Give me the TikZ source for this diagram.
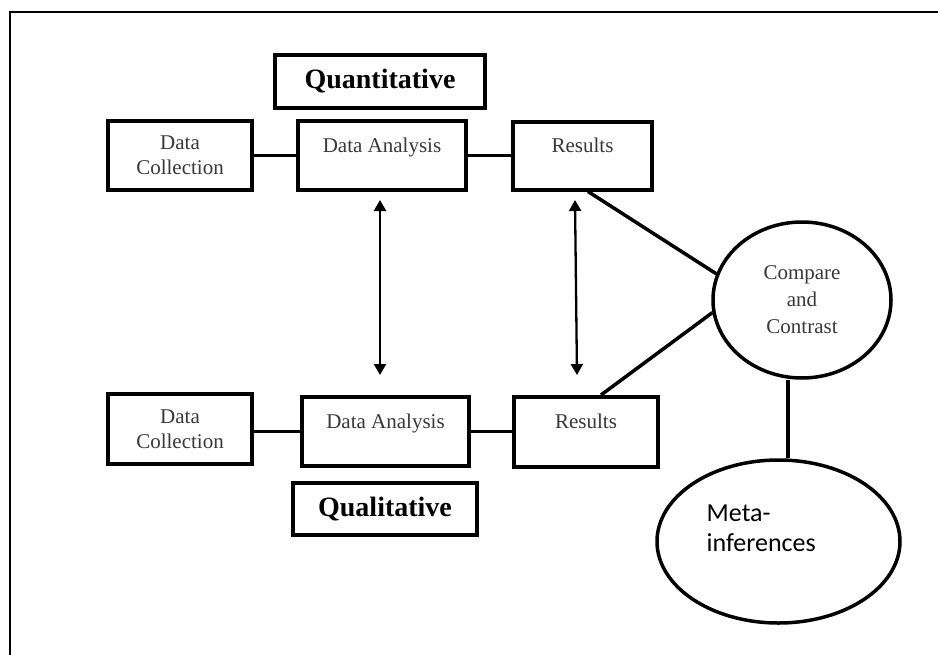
\documentclass[tikz,border=0pt]{standalone}
\usepackage{fontspec}
\setmainfont{Liberation Serif}
\newfontfamily\calibrilike{Carlito}
\usetikzlibrary{arrows.meta,shapes.geometric}

\begin{document}
\begin{tikzpicture}[x=1pt,y=-1pt,
  box/.style={draw, line width=4pt, line join=miter, inner sep=0pt, align=center,
              text=black!78, font=\fontsize{21}{25}\selectfont},
  headbox/.style={box, line width=4.5pt, text=black, font=\bfseries\fontsize{28}{32}\selectfont},
  toptext/.style={text height=15pt, text depth=22pt},
  link/.style={line width=3.5pt},
  dblarrow/.style={line width=2.3pt, {Triangle[length=11pt,width=12pt]}-{Triangle[length=11pt,width=12pt]}},
  oval/.style={draw, ellipse, line width=3.5pt, inner sep=0pt},
]
\useasboundingbox (0,0) rectangle (938,654);
\fill[white] (0,0) rectangle (938,654);
% frame along the top and left edges
\draw[line width=2.5pt] (10,660) -- (10,12) -- (944,12);

% quantitative strand
\node[headbox, minimum width=210pt, minimum height=53pt] (quant) at (380,81.5) {Quantitative};
\node[box, minimum width=144pt, minimum height=69pt] (dcA) at (180,155.5) {Data\\Collection};
\node[box, toptext, minimum width=168pt, minimum height=69pt] (daA) at (382,155.5) {Data Analysis};
\node[box, toptext, minimum width=139pt, minimum height=68pt] (resA) at (582.5,155.5) {Results};

% qualitative strand
\node[box, minimum width=144pt, minimum height=70pt] (dcB) at (180,429) {Data\\Collection};
\node[box, toptext, minimum width=167pt, minimum height=69pt] (daB) at (385.5,431.5) {Data Analysis};
\node[box, toptext, minimum width=144pt, minimum height=70pt] (resB) at (586,432) {Results};
\node[headbox, minimum width=184pt, minimum height=52pt] (qual) at (385,509) {Qualitative};

% merging
\node[oval, minimum width=178pt, minimum height=156pt, align=center, text=black!78,
      font=\fontsize{21}{27}\selectfont] (cmp) at (802,300) {Compare\\and\\Contrast};
\node[oval, minimum width=243pt, minimum height=163pt] (meta) at (778.5,541.5) {};
\node[anchor=west, align=left, inner sep=0pt, font=\calibrilike\fontsize{26}{30}\selectfont]
     (metatext) at ([xshift=-72pt, yshift=13pt]meta.center) {Meta-\\inferences};

% links within each strand
\draw[link] (dcA.east) -- (daA.west);
\draw[link] (daA.east) -- (resA.west);
\draw[link] (daB.west) -- (daB.west -| dcB.east);
\draw[link] (daB.east) -- (daB.east -| resB.west);

% exchange between the strands
\coordinate (upA) at (380,200);
\coordinate (dnA) at (380,375);
\coordinate (upB) at (575,200);
\coordinate (dnB) at (577,375);
\draw[dblarrow] (upA) -- (dnA);
\draw[dblarrow] (upB) -- (dnB);

% results into comparison, then meta-inferences
\draw[link] ([xshift=5.5pt]resA.south) -- (cmp.163);
\draw[link] ([xshift=15pt]resB.north) -- (cmp.188);
\draw[link] ([xshift=-14pt]cmp.south) -- ([xshift=-14pt]cmp.south |- meta.north);
\end{tikzpicture}
\end{document}
